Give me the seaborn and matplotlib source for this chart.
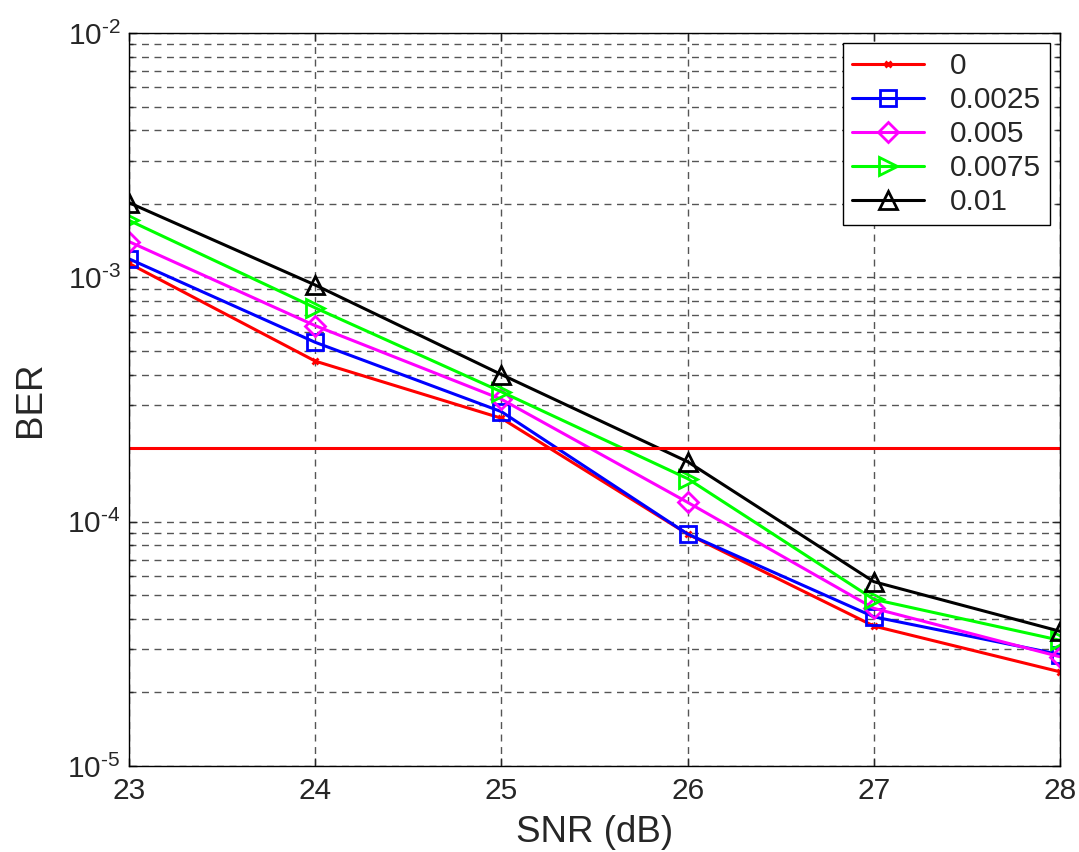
import matplotlib
matplotlib.use("Agg")
import matplotlib.pyplot as plt
import matplotlib.ticker as mticker
import seaborn as sns
import pandas as pd
import numpy as np

snr = [23, 24, 25, 26, 27, 28]
labels = ["0", "0.0025", "0.005", "0.0075", "0.01"]
ber_0 = [1.14e-3, 4.54e-4, 2.65e-4, 8.9e-5, 3.74e-5, 2.43e-5]
ber_0025 = [1.19e-3, 5.42e-4, 2.82e-4, 8.9e-5, 4.08e-5, 2.86e-5]
ber_005 = [1.40e-3, 6.34e-4, 3.17e-4, 1.20e-4, 4.42e-5, 2.80e-5]
ber_0075 = [1.71e-3, 7.5e-4, 3.40e-4, 1.50e-4, 4.81e-5, 3.27e-5]
ber_01 = [2.02e-3, 9.3e-4, 4.0e-4, 1.76e-4, 5.68e-5, 3.56e-5]
threshold = 2e-4

series = [ber_0, ber_0025, ber_005, ber_0075, ber_01]
colors = ["#ff0000", "#0000ff", "#ff00ff", "#00ff00", "#000000"]
markers = ["x", "s", "D", ">", "^"]
msizes = [5, 11, 10, 13, 13]

sns.set_theme(style="white")
plt.rcParams["font.family"] = ["Liberation Sans", "DejaVu Sans"]
plt.rcParams["mathtext.fontset"] = "custom"
plt.rcParams["mathtext.rm"] = "Liberation Sans"
plt.rcParams["mathtext.it"] = "Liberation Sans"

fig = plt.figure(figsize=(10.79, 8.52), dpi=100)
ax = fig.add_axes([0.1196, 0.1009, 0.8628, 0.8604])

for lab, vals, c, m, ms in zip(labels, series, colors, markers, msizes):
    df = pd.DataFrame({"SNR": snr, "BER": vals})
    sns.lineplot(data=df, x="SNR", y="BER", ax=ax, color=c, marker=m,
                 markersize=ms, markerfacecolor="none", markeredgecolor=c,
                 markeredgewidth=2, linewidth=2.2, label=lab)

ax.axhline(threshold, color="#ff0000", linewidth=2.2)

ax.set_yscale("log")
ax.set_xlim(23, 28)
ax.set_ylim(1e-5, 1e-2)
ax.set_xticks(snr)
ax.yaxis.set_major_locator(mticker.LogLocator(base=10, numticks=10))
ax.yaxis.set_major_formatter(mticker.FuncFormatter(
    lambda v, p: r"$10^{\text{-%d}}$" % round(-np.log10(v))))
ax.yaxis.set_minor_locator(mticker.LogLocator(base=10, subs=np.arange(2, 10), numticks=20))
ax.yaxis.set_minor_formatter(mticker.NullFormatter())

grid_kw = dict(color="#555555", linestyle=(0, (5, 4)), linewidth=1.0)
ax.grid(True, which="major", axis="both", **grid_kw)
ax.grid(True, which="minor", axis="y", **grid_kw)

ax.tick_params(axis="both", which="both", direction="in", labelsize=21.5,
               top=True, right=True, left=True, bottom=True, length=6, width=1)
ax.tick_params(axis="both", which="minor", length=3)
ax.tick_params(axis="x", pad=8)
ax.tick_params(axis="y", pad=6)
for s in ax.spines.values():
    s.set_color("black")
    s.set_linewidth(1)

ax.set_xlabel("SNR (dB)", fontsize=26.5, labelpad=7)
ax.set_ylabel("BER", fontsize=26.5, labelpad=14)

leg = ax.legend(loc="upper right", fontsize=21.5, frameon=True, fancybox=False,
                edgecolor="black", framealpha=1, borderaxespad=0.35,
                handlelength=2.4, handletextpad=0.85, labelspacing=0.2,
                borderpad=0.3)
leg.get_frame().set_linewidth(1)

fig.savefig("out.png", dpi=100, facecolor="white")
